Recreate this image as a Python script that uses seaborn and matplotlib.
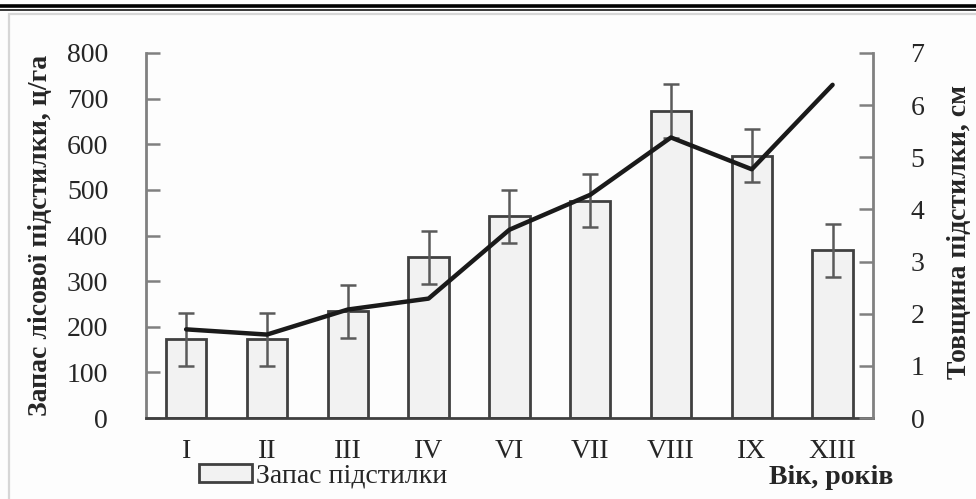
import numpy as np
import pandas as pd
import matplotlib
matplotlib.use("Agg")
import matplotlib.pyplot as plt
from matplotlib.lines import Line2D
from matplotlib.patches import Rectangle
import seaborn as sns

# Age classes (Roman numerals) and measured litter characteristics
age_classes = ["I", "II", "III", "IV", "VI", "VII", "VIII", "IX", "XIII"]
litter_stock = [173, 173, 234, 352, 442, 476, 673, 575, 368]      # ц/га
litter_stock_err = [58, 58, 58, 58, 58, 58, 60, 58, 58]           # ц/га
litter_thickness = [1.70, 1.60, 2.08, 2.29, 3.61, 4.28, 5.38, 4.77, 6.39]  # см

left_ticks = [0, 100, 200, 300, 400, 500, 600, 700, 800]
right_ticks = [0, 1, 2, 3, 4, 5, 6, 7]

sns.set_theme(style="white")
plt.rcParams["font.family"] = ["Liberation Serif", "DejaVu Serif"]
plt.rcParams["font.size"] = 20

W, H = 976, 499
fig = plt.figure(figsize=(W / 100, H / 100), dpi=100)
fig.patch.set_facecolor("#fdfdfd")

# double rule at the top of the page and the light frame around the figure
fig.add_artist(Line2D([0, 1], [1 - 5.5 / H, 1 - 5.5 / H], color="black", lw=2.6,
                      transform=fig.transFigure))
fig.add_artist(Line2D([0, 1], [1 - 10.3 / H, 1 - 10.3 / H], color="black", lw=1.1,
                      transform=fig.transFigure))
fig.add_artist(Rectangle((8.5 / W, -0.02), 1.2, 1 - 14 / H + 0.02, fill=False,
                         edgecolor="#d6d6d6", lw=1.6, transform=fig.transFigure))

ax = fig.add_axes([145.7 / W, (H - 418) / H, (873 - 145.7) / W, (418 - 53) / H])
ax.set_facecolor("none")

df = pd.DataFrame({"age": age_classes, "stock": litter_stock,
                   "thick": litter_thickness, "err": litter_stock_err})

sns.barplot(data=df, x="age", y="stock", ax=ax, width=0.5, color="#f2f2f2",
            edgecolor="#404040", linewidth=2.0, saturation=1, errorbar=None,
            label="Запас підстилки")
if ax.get_legend() is not None:
    ax.get_legend().remove()
pos = np.arange(len(age_classes))
ax.errorbar(pos, df["stock"], yerr=df["err"], fmt="none", ecolor="#5a5a5a",
            elinewidth=1.8, capsize=5.8, capthick=1.8, zorder=4)

ax.set_xlim(-0.5, len(age_classes) - 0.5)
ax.set_ylim(0, 800)
ax.set_yticks(left_ticks)
ax.set_xticks(pos)
ax.set_xticklabels(age_classes)
ax.set_xticks(np.arange(len(age_classes) + 1) - 0.5, minor=True)
ax.tick_params(axis="x", which="major", length=0, pad=15, labelsize=20)
ax.tick_params(axis="x", which="minor", direction="in", length=8, width=1.8,
               color="#404040")
ax.tick_params(axis="y", direction="in", length=10, width=1.8, color="#808080",
               pad=27, labelsize=20)
ax.set_xlabel("")
ax.set_ylabel("Запас лісової підстилки, ц/га", fontweight="bold", fontsize=20)
ax.yaxis.set_label_coords(-0.127, 0.5)

for side in ["top", "right"]:
    ax.spines[side].set_visible(False)
ax.spines["left"].set_color("#808080")
ax.spines["left"].set_linewidth(2.0)
ax.spines["bottom"].set_color("#404040")
ax.spines["bottom"].set_linewidth(2.0)

ax2 = ax.twinx()
sns.lineplot(x=pos, y=df["thick"], ax=ax2, color="#1a1a1a", linewidth=3.2,
             legend=False)
ax2.set_ylim(0, 7)
ax2.set_yticks(right_ticks)
ax2.tick_params(axis="y", direction="in", length=10, width=1.8, color="#808080",
                pad=27, labelsize=20)
ax2.set_ylabel("Товщина підстилки, см", fontweight="bold", fontsize=20,
               rotation=90)
ax2.yaxis.set_label_coords(1.102, 0.51)
for side in ["top", "left", "bottom"]:
    ax2.spines[side].set_visible(False)
ax2.spines["right"].set_color("#808080")
ax2.spines["right"].set_linewidth(2.0)
ax2.grid(False)
ax.grid(False)

handles, labels = ax.get_legend_handles_labels()
fig.legend(handles[:1], labels[:1], loc="center left",
           bbox_to_anchor=(199 / W, 1 - 476 / H), frameon=False, fontsize=20,
           handlelength=1.9, handleheight=0.6, handletextpad=0.15,
           borderpad=0, borderaxespad=0)

fig.text(893 / W, 1 - 478 / H, "Вік, років", ha="right", va="center",
         fontweight="bold", fontsize=20)

fig.savefig("out.png", dpi=100, facecolor=fig.get_facecolor())
